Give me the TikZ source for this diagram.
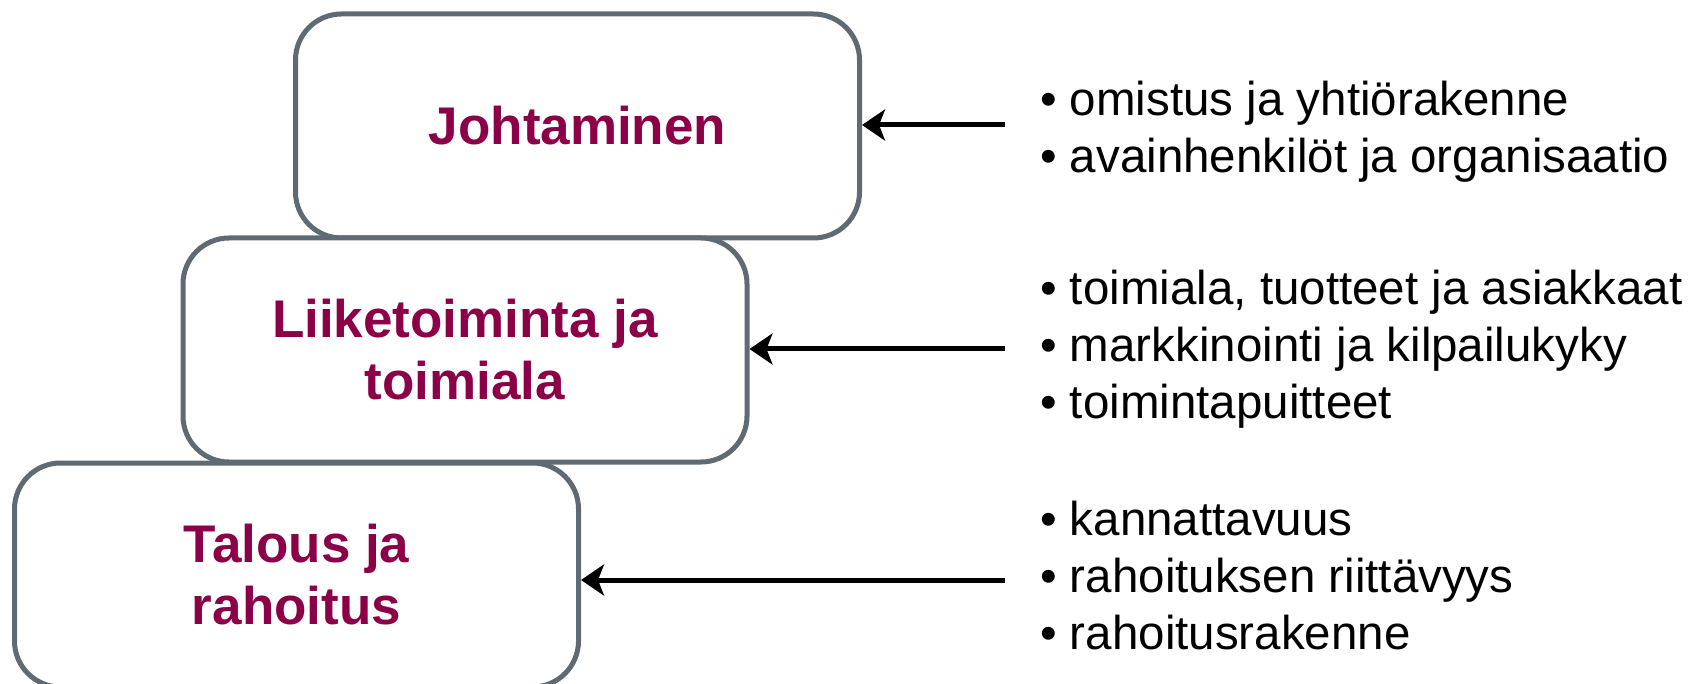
\documentclass[tikz,border=0pt]{standalone}
\usepackage{fontspec}
\setmainfont{Liberation Sans}
\usetikzlibrary{arrows.meta}
\definecolor{boxline}{HTML}{5F6B73}
\definecolor{titlecol}{HTML}{8C0048}
\tikzset{
  stagebox/.style={draw=boxline, line width=5pt, fill=white, rounded corners=46pt,
    minimum width=564pt, minimum height=224pt, align=center, inner sep=0pt,
    font=\fontsize{53}{62}\selectfont\bfseries, text=titlecol},
  pointer/.style={line width=5pt, -{Stealth[length=23pt,width=31pt,inset=6pt]}},
  bullets/.style={anchor=west, align=left, inner sep=0pt, font=\fontsize{47.5}{57}\selectfont}
}
\begin{document}
\begin{tikzpicture}[x=1pt,y=1pt]
\useasboundingbox (0,0) rectangle (1694,-684);
\node[stagebox] (b1) at (577.5,-126) {Johtaminen};
\node[stagebox] (b2) at (465,-350) {Liiketoiminta ja\\toimiala};
\node[stagebox] (b3) at (296.5,-575) {Talous ja\\rahoitus};
\coordinate (c1) at (1005,-125);
\coordinate (c2) at (1005,-349);
\coordinate (c3) at (1005,-580);
\draw[pointer] (c1) -- (c1 -| b1.east);
\draw[pointer] (c2) -- (c2 -| b2.east);
\draw[pointer] (c3) -- (c3 -| b3.east);
\node[bullets] (t1) at (1040,-132) {• omistus ja yhtiörakenne\\• avainhenkilöt ja organisaatio};
\node[bullets] (t2) at (1040,-349) {• toimiala, tuotteet ja asiakkaat\\• markkinointi ja kilpailukyky\\• toimintapuitteet};
\node[bullets] (t3) at (1040,-576) {• kannattavuus\\• rahoituksen riittävyys\\• rahoitusrakenne};
\end{tikzpicture}
\end{document}
